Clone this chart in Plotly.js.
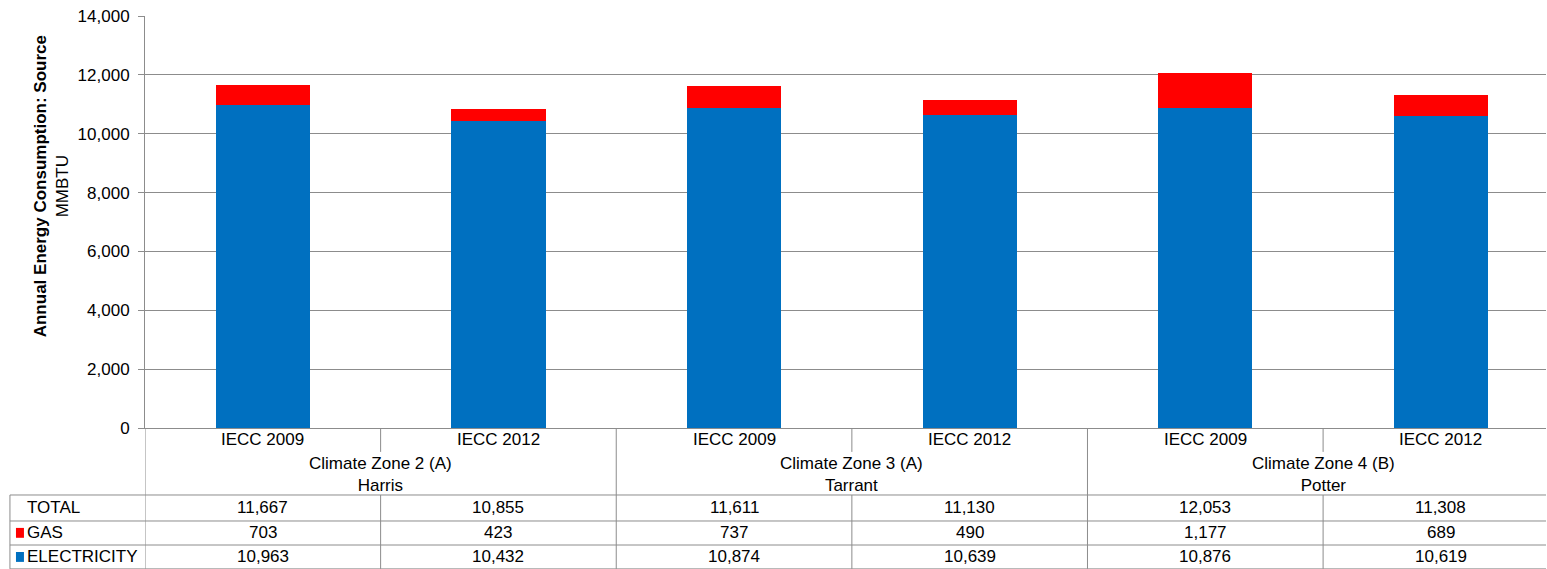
<!DOCTYPE html>
<html>
<head>
<meta charset="utf-8">
<script src="https://cdn.plot.ly/plotly-3.0.1.min.js"></script>
<style>html,body{margin:0;padding:0;background:#fff;}#chart{width:1547px;height:569px;}</style>
</head>
<body>
<div id="chart"></div>
<script>
const categories = ['IECC 2009', 'IECC 2012', 'IECC 2009', 'IECC 2012', 'IECC 2009', 'IECC 2012'];
const groups = ['Climate Zone 2 (A)<br>Harris', 'Climate Zone 3 (A)<br>Tarrant', 'Climate Zone 4 (B)<br>Potter'];
const electricity = [10963, 10432, 10874, 10639, 10876, 10619];
const gas = [703, 423, 737, 490, 1177, 689];
const total = [11667, 10855, 11611, 11130, 12053, 11308];
const rowLabels = ['TOTAL', 'GAS', 'ELECTRICITY'];
const yTicks = [0, 2000, 4000, 6000, 8000, 10000, 12000, 14000];

const BLUE = '#0070C0', RED = '#FF0000', GRID = '#8c8c8c';
const FONT = 'Liberation Sans, Arial, sans-serif';
const FS = 17;
const xs = categories.map((c, i) => i);

const traces = [
  {type: 'bar', x: xs, y: electricity, marker: {color: BLUE}, width: 0.4, name: 'ELECTRICITY', hoverinfo: 'y'},
  {type: 'bar', x: xs, y: gas, marker: {color: RED}, width: 0.4, name: 'GAS', hoverinfo: 'y'}
];

const fmt = v => v.toLocaleString('en-US');
const shapes = [];
const annotations = [];
const line = {color: GRID, width: 1};

// y-axis extension down through table
shapes.push({type: 'line', xref: 'x', yref: 'paper', x0: -0.5, x1: -0.5, y0: 0, y1: -0.342, line});
// group dividers
[1.5, 3.5].forEach(x => shapes.push({type: 'line', xref: 'x', yref: 'paper', x0: x, x1: x, y0: 0, y1: -0.342, line}));
// in-group dividers
[0.5, 2.5, 4.5].forEach(x => {
  shapes.push({type: 'line', xref: 'x', yref: 'paper', x0: x, x1: x, y0: 0, y1: -0.058, line});
  shapes.push({type: 'line', xref: 'x', yref: 'paper', x0: x, x1: x, y0: -0.1626, y1: -0.342, line});
});
// table horizontal lines
[-0.1626, -0.2257, -0.284, -0.342].forEach(y => shapes.push({type: 'line', xref: 'paper', yref: 'paper', x0: -0.0964, x1: 1, y0: y, y1: y, line}));
// table left border
shapes.push({type: 'line', xref: 'paper', yref: 'paper', x0: -0.0964, x1: -0.0964, y0: -0.1626, y1: -0.342, line});

// category labels
categories.forEach((c, i) => annotations.push({xref: 'x', yref: 'paper', x: i, y: -0.029, text: c, showarrow: false, font: {family: FONT, size: FS, color: '#000'}, yanchor: 'middle'}));
// group labels
groups.forEach((g, i) => annotations.push({xref: 'x', yref: 'paper', x: 2 * i + 0.5, y: -0.112, text: g, showarrow: false, font: {family: FONT, size: FS, color: '#000'}, yanchor: 'middle'}));

// table rows
const rowY = [-0.194, -0.2545, -0.313];
const rowData = [total, gas, electricity];
rowData.forEach((arr, r) => {
  arr.forEach((v, i) => annotations.push({xref: 'x', yref: 'paper', x: i, y: rowY[r], text: fmt(v), showarrow: false, font: {family: FONT, size: FS, color: '#000'}, yanchor: 'middle'}));
  annotations.push({xref: 'paper', yref: 'paper', x: -0.0857, y: rowY[r], text: rowLabels[r], showarrow: false, xanchor: 'left', font: {family: FONT, size: FS, color: '#000'}, yanchor: 'middle'});
});
// legend keys
[[RED, rowY[1]], [BLUE, rowY[2]]].forEach(([c, y]) => shapes.push({type: 'rect', xref: 'paper', yref: 'paper', x0: -0.0921, x1: -0.0864, y0: y - 0.012, y1: y + 0.012, fillcolor: c, line: {width: 0}}));

// y title
annotations.push({xref: 'paper', yref: 'paper', x: -0.067, y: 0.587, text: '<b>Annual Energy Consumption: Source</b><br>MMBTU', textangle: -90, showarrow: false, font: {family: FONT, size: 17, color: '#000'}, xanchor: 'center', yanchor: 'middle'});

const layout = {
  width: 1547, height: 569,
  margin: {l: 145, r: 1, t: 16, b: 141},
  paper_bgcolor: '#fff', plot_bgcolor: '#fff',
  barmode: 'stack',
  showlegend: false,
  font: {family: FONT, size: FS, color: '#000'},
  xaxis: {range: [-0.5, 5.446], showticklabels: false, ticks: '', showgrid: false, zeroline: false, showline: true, linecolor: GRID, linewidth: 1, fixedrange: true},
  yaxis: {range: [0, 14000], tickvals: yTicks, ticktext: yTicks.map(fmt), ticks: 'outside', ticklen: 6, tickcolor: GRID, ticklabelstandoff: 5, showgrid: true, gridcolor: GRID, gridwidth: 1, zeroline: false, showline: true, linecolor: GRID, linewidth: 1, tickfont: {family: FONT, size: FS, color: '#000'}, fixedrange: true},
  shapes, annotations
};
Plotly.newPlot('chart', traces, layout, {displayModeBar: false, staticPlot: true});
</script>
</body>
</html>
